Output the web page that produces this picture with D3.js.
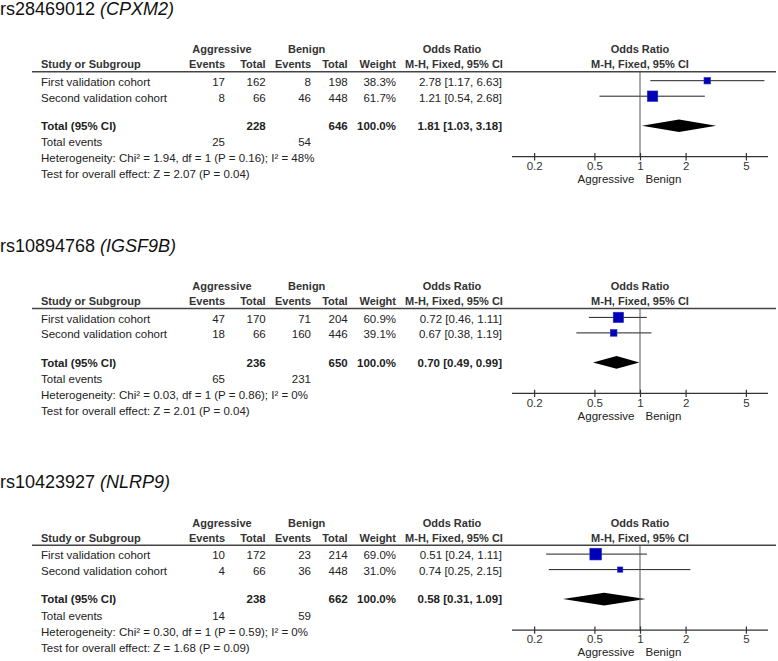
<!DOCTYPE html>
<html>
<head>
<meta charset="utf-8">
<script src="https://cdn.jsdelivr.net/npm/d3@7/dist/d3.min.js"></script>
<style>
  body { margin: 0; background: #fff; }
  svg { display: block; font-family: "Liberation Sans", Arial, sans-serif; }
  .hd { font-weight: bold; fill: #333; font-size: 11px; }
  .tx { fill: #222; font-size: 11.5px; }
</style>
</head>
<body>
<svg id="svg" width="778" height="661"></svg>
<script>
// chart values, one panel per SNP
let snpIds = ['rs28469012', 'rs10894768', 'rs10423927'];
let genes = ['CPXM2', 'IGSF9B', 'NLRP9'];
let studies = ['First validation cohort', 'Second validation cohort'];
let aggEvents = [[17, 8], [47, 18], [10, 4]];
let aggTotals = [[162, 66], [170, 66], [172, 66]];
let benEvents = [[8, 46], [71, 160], [23, 36]];
let benTotals = [[198, 448], [204, 446], [214, 448]];
let weights = [[38.3, 61.7], [60.9, 39.1], [69.0, 31.0]];
let orMid = [[2.78, 1.21], [0.72, 0.67], [0.51, 0.74]];
let orLow = [[1.17, 0.54], [0.46, 0.38], [0.24, 0.25]];
let orHigh = [[6.63, 2.68], [1.11, 1.19], [1.11, 2.15]];
let pooledMid = [1.81, 0.70, 0.58];
let pooledLow = [1.03, 0.49, 0.31];
let pooledHigh = [3.18, 0.99, 1.09];
let totalAgg = [228, 236, 238];
let totalBen = [646, 650, 662];
let eventsAgg = [25, 65, 14];
let eventsBen = [54, 231, 59];
let hetChi = ['1.94', '0.03', '0.30'];
let hetP = ['0.16', '0.86', '0.59'];
let hetI2 = [48, 0, 0];
let zVals = ['2.07', '2.01', '1.68'];
let zP = ['0.04', '0.04', '0.09'];
let xTicks = [0.2, 0.5, 1, 2, 5];

let svg = d3.select('#svg');

// layout
let panelStep = 236.7;
let col = { study: 41, aggEv: 225, aggTot: 265.7, benEv: 311, benTot: 347.7, weight: 396, or: 502 };
let rowY = [86, 101.5];

let x = d3.scaleLog().domain([1 / 7, 7]).range([512, 768]);
let size = d3.scaleLinear().domain([0, 100]).range([0, 17]);
let fmt2 = d3.format('.2f');
let orText = (m, l, h) => fmt2(m) + ' [' + fmt2(l) + ', ' + fmt2(h) + ']';

snpIds.forEach((snp, p) => {
    let g = svg.append('g').attr('transform', 'translate(0,' + p * panelStep + ')');

    // title
    let title = g.append('text').attr('x', 0).attr('y', 15)
        .attr('font-size', '18px').attr('fill', '#111');
    title.append('tspan').text(snp + ' ');
    title.append('tspan').attr('font-style', 'italic').text('(' + genes[p] + ')');

    // header
    let hd = (t, xx, y, anchor) => g.append('text').attr('class', 'hd')
        .attr('x', xx).attr('y', y).attr('text-anchor', anchor).text(t);
    hd('Aggressive', 222, 53.3, 'middle');
    hd('Benign', 306.7, 53.3, 'middle');
    hd('Odds Ratio', 452, 53.3, 'middle');
    hd('Odds Ratio', x(1), 53.3, 'middle');
    hd('Study or Subgroup', col.study, 68.3, 'start');
    hd('Events', col.aggEv, 68.3, 'end');
    hd('Total', col.aggTot, 68.3, 'end');
    hd('Events', col.benEv, 68.3, 'end');
    hd('Total', col.benTot, 68.3, 'end');
    hd('Weight', col.weight, 68.3, 'end');
    hd('M-H, Fixed, 95% CI', 454, 68.3, 'middle');
    hd('M-H, Fixed, 95% CI', x(1), 68.3, 'middle');

    g.append('line').attr('x1', 32).attr('x2', 776).attr('y1', 71.8).attr('y2', 71.8)
        .attr('stroke', '#444').attr('stroke-width', 1.4);

    let tx = (t, xx, y, anchor, bold) => g.append('text').attr('class', 'tx')
        .attr('x', xx).attr('y', y).attr('text-anchor', anchor)
        .attr('font-weight', bold ? 'bold' : null).text(t);

    // study rows
    studies.forEach((s, i) => {
        let y = rowY[i];
        tx(s, col.study, y, 'start');
        tx(aggEvents[p][i], col.aggEv, y, 'end');
        tx(aggTotals[p][i], col.aggTot, y, 'end');
        tx(benEvents[p][i], col.benEv, y, 'end');
        tx(benTotals[p][i], col.benTot, y, 'end');
        tx(weights[p][i].toFixed(1) + '%', col.weight, y, 'end');
        tx(orText(orMid[p][i], orLow[p][i], orHigh[p][i]), col.or, y, 'end');

        let cy = y - 5.3;
        g.append('line').attr('x1', x(orLow[p][i])).attr('x2', x(orHigh[p][i]))
            .attr('y1', cy).attr('y2', cy).attr('stroke', '#222').attr('stroke-width', 1);
        let s2 = size(weights[p][i]);
        g.append('rect').attr('x', x(orMid[p][i]) - s2 / 2).attr('y', cy - s2 / 2)
            .attr('width', s2).attr('height', s2)
            .attr('fill', '#0000b4').attr('stroke', '#2a2ad0').attr('stroke-width', 0.6);
    });

    // total row
    let ty = 130;
    tx('Total (95% CI)', col.study, ty, 'start', true);
    tx(totalAgg[p], col.aggTot, ty, 'end', true);
    tx(totalBen[p], col.benTot, ty, 'end', true);
    tx('100.0%', col.weight, ty, 'end', true);
    tx(orText(pooledMid[p], pooledLow[p], pooledHigh[p]), col.or, ty, 'end', true);

    let dy = ty - 4.3;
    let dh = 6.3;
    g.append('path')
        .attr('d', 'M' + x(pooledLow[p]) + ',' + dy +
            'L' + x(pooledMid[p]) + ',' + (dy - dh) +
            'L' + x(pooledHigh[p]) + ',' + dy +
            'L' + x(pooledMid[p]) + ',' + (dy + dh) + 'Z')
        .attr('fill', '#000');

    tx('Total events', col.study, 146.3, 'start');
    tx(eventsAgg[p], col.aggEv, 146.3, 'end');
    tx(eventsBen[p], col.benEv, 146.3, 'end');
    tx('Heterogeneity: Chi\u00b2 = ' + hetChi[p] + ', df = 1 (P = ' + hetP[p] + '); I\u00b2 = ' + hetI2[p] + '%',
        col.study, 162.3, 'start');
    tx('Test for overall effect: Z = ' + zVals[p] + ' (P = ' + zP[p] + ')', col.study, 178.3, 'start');

    // vertical line of no effect
    let axisY = 156.7;
    g.append('line').attr('x1', x(1)).attr('x2', x(1)).attr('y1', 71.8).attr('y2', axisY)
        .attr('stroke', '#555').attr('stroke-width', 1);

    // x axis
    let axisG = g.append('g').attr('transform', 'translate(0,' + axisY + ')')
        .call(d3.axisBottom(x).tickValues(xTicks).tickFormat(d => d).tickSize(0));
    axisG.select('.domain').remove();
    axisG.append('line').attr('x1', x.range()[0]).attr('x2', x.range()[1])
        .attr('stroke', '#333').attr('stroke-width', 1.2);
    axisG.selectAll('.tick line').attr('y1', -3.7).attr('y2', 3.7)
        .attr('stroke', '#333').attr('stroke-width', 1.2);
    axisG.selectAll('.tick text').attr('y', 13.3).attr('dy', null)
        .attr('font-family', '"Liberation Sans", Arial, sans-serif')
        .attr('font-size', '11.5px').attr('fill', '#333');

    g.append('text').attr('class', 'tx').attr('x', x(1) - 5.5).attr('y', 183)
        .attr('text-anchor', 'end').attr('fill', '#444').text('Aggressive');
    g.append('text').attr('class', 'tx').attr('x', x(1) + 5.5).attr('y', 183)
        .attr('text-anchor', 'start').attr('fill', '#444').text('Benign');
});
</script>
</body>
</html>
